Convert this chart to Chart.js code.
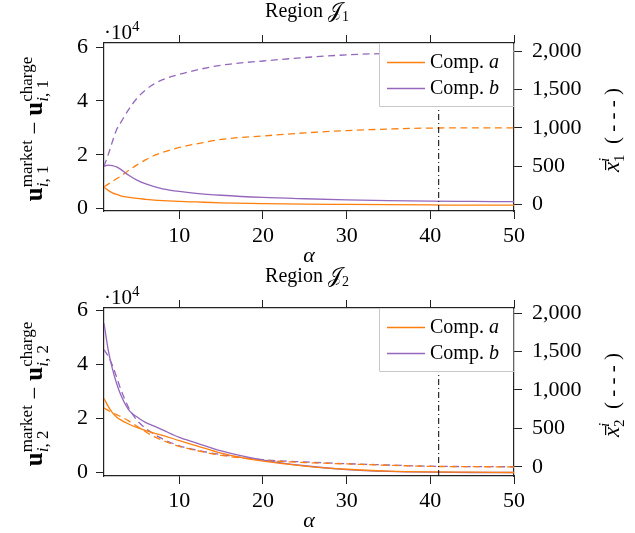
<!DOCTYPE html>
<html><head><meta charset="utf-8">
<script src="https://cdn.jsdelivr.net/npm/chart.js@4"></script>
<style>
html,body{margin:0;padding:0;background:#fff;}
body{width:635px;height:533px;position:relative;overflow:hidden;}
canvas{position:absolute;left:0;}
#c1{top:0;} #c2{top:262px;}
</style></head><body>
<canvas id="c1" width="635" height="265"></canvas>
<canvas id="c2" width="635" height="271"></canvas>
<script>
// ---------- data ----------
const alphaValues = [1,1.5,2,2.5,3,4,5,6,7,8,10,12,15,20,25,30,35,40,45,50];
// Region J1: utility difference (x 10^4, left axis)
const r1SolidA = [0.80,0.68,0.59,0.53,0.48,0.42,0.38,0.35,0.32,0.30,0.27,0.25,0.22,0.19,0.17,0.16,0.15,0.14,0.13,0.13];
const r1SolidB = [1.57,1.62,1.60,1.55,1.46,1.23,1.05,0.92,0.82,0.74,0.64,0.57,0.50,0.42,0.37,0.33,0.30,0.28,0.27,0.26];
// Region J1: x-bar (right axis)
const r1DashA = [227,265,300,335,368,450,520,585,640,680,745,790,850,895,935,965,985,998,1000,1000];
const r1DashB = [497,650,820,976,1070,1250,1395,1500,1575,1630,1700,1755,1820,1875,1920,1955,1975,1990,1997,2000];
// Region J2
const r2SolidA = [2.75,2.45,2.22,2.06,1.95,1.79,1.66,1.55,1.46,1.38,1.18,1.00,0.72,0.42,0.24,0.12,0.05,0.02,0.01,0.00];
const r2SolidB = [5.53,4.55,3.85,3.31,2.88,2.30,2.05,1.85,1.72,1.58,1.30,1.10,0.80,0.46,0.25,0.11,0.04,0.01,0.00,0.00];
const r2DashA = [766,735,705,680,655,595,525,455,395,345,268,215,152,88,58,40,22,8,4,2];
const r2DashB = [1523,1440,1320,1170,1010,760,600,500,425,365,275,220,160,95,65,43,26,10,5,3];

const xTickValues = [10,20,30,40,50];
const leftTickValues = [0,2,4,6];
const rightTickValues = [0,500,1000,1500,2000];
const cutoffAlpha = 41;
const compNames = ['a','b'];

// ---------- style ----------
const ORANGE = '#ff7f0e', PURPLE = '#9467bd', AXIS = '#222';
const SERIF = "'Liberation Serif','DejaVu Serif',serif";
const F = (size, style) => (style ? style + ' ' : '') + size + 'px ' + SERIF;

function runWidth(ctx, r){
  if (r.stack) return Math.max(...r.stack.map(p => partsWidth(ctx, p.runs)));
  ctx.font = r.font; return ctx.measureText(r.t).width;
}
function partsWidth(ctx, runs){ return runs.reduce((s,r)=>s+runWidth(ctx,r),0); }
function drawParts(ctx, runs, x, y){
  for (const r of runs){
    if (r.stack){
      let w = 0;
      for (const p of r.stack){ drawParts(ctx, p.runs, x, y + p.dy); w = Math.max(w, partsWidth(ctx, p.runs)); }
      x += w;
    } else {
      ctx.font = r.font; const dy = r.dy || 0;
      ctx.fillText(r.t, x, y + dy);
      const w = ctx.measureText(r.t).width;
      if (r.bar) ctx.fillRect(x + 2, y + dy - r.bar, w - 1, 1.2);
      x += w;
    }
  }
  return x;
}

function makeAnnot(idx){
  return {
    id: 'annot' + idx,
    afterDatasetsDraw(chart){
      const {ctx, chartArea: ca, scales} = chart;
      ctx.save();
      // vertical dash-dot marker
      const xp = scales.x.getPixelForValue(cutoffAlpha);
      ctx.strokeStyle = '#000'; ctx.lineWidth = 1; ctx.setLineDash([6,3,1,3]);
      ctx.beginPath(); ctx.moveTo(xp, ca.bottom); ctx.lineTo(xp, ca.top); ctx.stroke();
      ctx.setLineDash([]);
      // legend
      const lw = 135, lh = 63, lx = ca.right - lw, ly = ca.top;
      ctx.fillStyle = '#fff'; ctx.fillRect(lx, ly + 0.7, lw - 0.7, lh - 0.7);
      ctx.strokeStyle = '#c8c8c8'; ctx.lineWidth = 1;
      ctx.beginPath(); ctx.moveTo(lx + 0.5, ly); ctx.lineTo(lx + 0.5, ly + lh + 0.5); ctx.lineTo(ca.right, ly + lh + 0.5); ctx.stroke();
      const cols = [ORANGE, PURPLE];
      [0,1].forEach(i => {
        const yy = ly + 19.5 + i * 26;
        ctx.strokeStyle = cols[i]; ctx.lineWidth = 1.3;
        ctx.beginPath(); ctx.moveTo(lx + 8, yy); ctx.lineTo(lx + 46, yy); ctx.stroke();
        ctx.fillStyle = '#000'; ctx.textAlign = 'left'; ctx.textBaseline = 'alphabetic';
        drawParts(ctx, [{t:'Comp. ', font:F(20)}, {t:compNames[i], font:F(20,'italic')}], lx + 51, ly + 25 + i * 26);
      });
      ctx.restore();
    },
    afterDraw(chart){
      const {ctx, chartArea: ca} = chart;
      ctx.save();
      ctx.fillStyle = '#000'; ctx.textAlign = 'left'; ctx.textBaseline = 'alphabetic';
      const sub = String(idx);
      // title
      const title = [{t:'Region ', font:F(20)}, {t:'\u{1D4A5}', font:F(20)}, {t:sub, font:F(14), dy:4}];
      const tw = partsWidth(ctx, title);
      drawParts(ctx, title, (ca.left + ca.right)/2 - 2 - tw/2, ca.top - 26);
      // x-axis title
      const at = [{t:'\u03B1', font:F(22,'italic')}];
      drawParts(ctx, at, (ca.left + ca.right)/2 - partsWidth(ctx, at)/2, ca.bottom + 51);
      // multiplier
      drawParts(ctx, [{t:'\u00B710', font:F(21)}, {t:'4', font:F(15), dy:-8}], ca.left, ca.top - 4);
      // left axis title (rotated)
      const cy = (ca.top + ca.bottom)/2;
      const stackOf = (sup) => ({stack:[
        {dy:-10, runs:[{t:sup, font:F(17)}]},
        {dy:6, runs:[{t:'i', font:F(17,'italic')}, {t:', ' + sub, font:F(17)}]}
      ]});
      const lt = [{t:'u', font:F(25,'bold')}, stackOf('market'), {t:' \u2212 ', font:F(23)}, {t:'u', font:F(25,'bold')}, stackOf('charge')];
      const lwid = partsWidth(ctx, lt);
      ctx.save(); ctx.translate(42, cy + 2); ctx.rotate(-Math.PI/2);
      drawParts(ctx, lt, -lwid/2, 0); ctx.restore();
      // right axis title (rotated)
      const rt = [{t:'x', font:F(23,'italic'), bar:14},
        {stack:[{dy:-10, runs:[{t:'i', font:F(15,'italic')}]}, {dy:5, runs:[{t:sub, font:F(15)}]}]},
        {t:'  ( - - - )', font:F(21)}];
      const rwid = partsWidth(ctx, rt);
      ctx.save(); ctx.translate(619, cy + 3); ctx.rotate(-Math.PI/2);
      drawParts(ctx, rt, -rwid/2, 0); ctx.restore();
      ctx.restore();
    }
  };
}

function buildChart(id, idx, H, areaTop, areaBottom, sA, sB, dA, dB, leftRange, rightRange){
  const pts = arr => alphaValues.map((a,i) => ({x:a, y:arr[i]}));
  const ds = (label, arr, color, axis, dashed) => ({
    label, data: pts(arr), borderColor: color, backgroundColor: color, borderWidth: 1.3,
    pointRadius: 0, borderDash: dashed ? [7,4.5] : [], yAxisID: axis, xAxisID: 'x',
    cubicInterpolationMode: 'monotone', fill: false
  });
  const tickFont = {family: SERIF, size: 22};
  const grid = {drawOnChartArea:false, drawTicks:true, tickLength:8, color:AXIS, lineWidth:1};
  const border = {display:true, color:AXIS, width:1.2};
  const setTicks = vals => s => { s.ticks = vals.map(v => ({value:v})); };
  return new Chart(document.getElementById(id), {
    type: 'line',
    data: { datasets: [
      ds('Comp. a', sA, ORANGE, 'y', false),
      ds('Comp. b', sB, PURPLE, 'y', false),
      ds('Comp. a x', dA, ORANGE, 'y1', true),
      ds('Comp. b x', dB, PURPLE, 'y1', true)
    ]},
    options: {
      responsive: false, animation: false, devicePixelRatio: 1,
      layout: {padding: 0},
      plugins: {legend:{display:false}, title:{display:false}, tooltip:{enabled:false}},
      scales: {
        x: {type:'linear', position:'bottom', min:1, max:50, afterBuildTicks:setTicks(xTickValues),
            afterFit: s => { s.height = H - areaBottom; }, grid, border,
            ticks:{font:tickFont, color:'#000', padding:4, maxRotation:0, autoSkip:false}},
        x2: {type:'linear', position:'top', min:1, max:50, afterBuildTicks:setTicks(xTickValues),
            afterFit: s => { s.height = areaTop; }, grid, border, ticks:{display:false}},
        y: {type:'linear', position:'left', min:leftRange[0], max:leftRange[1], afterBuildTicks:setTicks(leftTickValues),
            afterFit: s => { s.width = 104; }, grid, border,
            ticks:{font:tickFont, color:'#000', padding:8, callback: v => String(v)}},
        y1: {type:'linear', position:'right', min:rightRange[0], max:rightRange[1], afterBuildTicks:setTicks(rightTickValues),
            afterFit: s => { s.width = 121; }, grid, border,
            ticks:{font:tickFont, color:'#000', padding:10, callback: v => v.toLocaleString('en-US')}}
      }
    },
    plugins: [makeAnnot(idx)]
  });
}

buildChart('c1', 1, 265, 43, 211, r1SolidA, r1SolidB, r1DashA, r1DashB, [-0.085, 6.15], [-86, 2110]);
buildChart('c2', 2, 271, 46, 214, r2SolidA, r2SolidB, r2DashA, r2DashB, [-0.13, 6.1], [-117, 2065]);
</script>
</body></html>
